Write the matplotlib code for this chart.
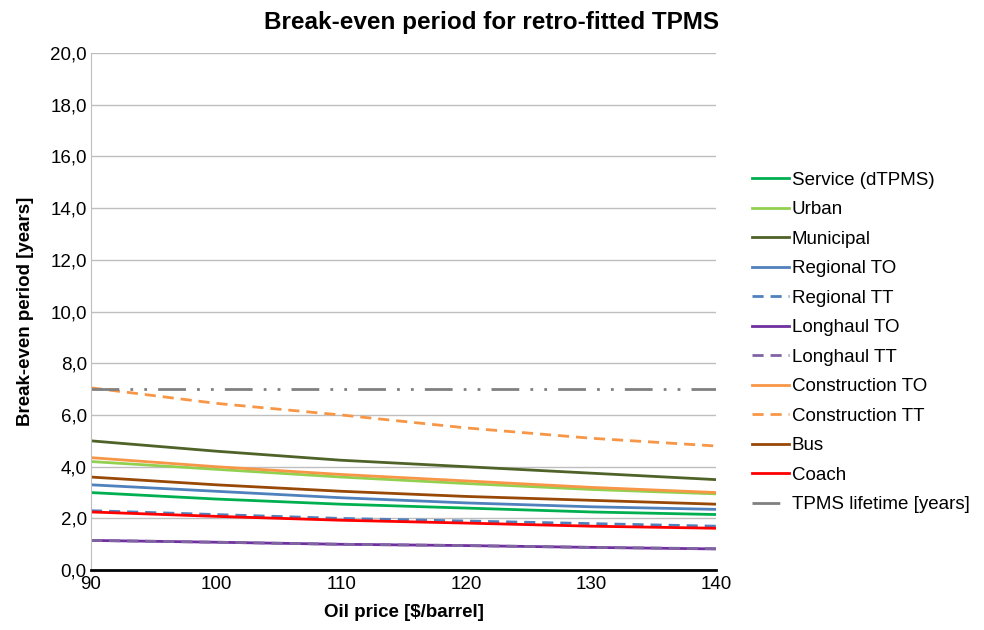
import matplotlib.pyplot as plt
from matplotlib.ticker import FuncFormatter

plt.rcParams['font.family'] = ['Liberation Sans', 'DejaVu Sans']

oil_price = [90, 100, 110, 120, 130, 140]

service = [3.0, 2.75, 2.55, 2.4, 2.25, 2.15]
urban = [4.2, 3.9, 3.6, 3.35, 3.12, 2.95]
municipal = [5.0, 4.6, 4.25, 4.0, 3.75, 3.5]
regional_to = [3.3, 3.05, 2.8, 2.6, 2.45, 2.35]
regional_tt = [2.3, 2.15, 2.0, 1.9, 1.8, 1.7]
longhaul_to = [1.15, 1.08, 1.0, 0.95, 0.88, 0.82]
longhaul_tt = [1.15, 1.08, 1.0, 0.95, 0.88, 0.83]
construction_to = [4.35, 4.0, 3.7, 3.45, 3.2, 3.0]
construction_tt = [7.05, 6.45, 6.0, 5.5, 5.1, 4.8]
bus = [3.6, 3.3, 3.05, 2.85, 2.7, 2.55]
coach = [2.25, 2.08, 1.93, 1.82, 1.7, 1.62]
lifetime = [7.0, 7.0, 7.0, 7.0, 7.0, 7.0]

fig = plt.figure(figsize=(9.84, 6.3), dpi=100)
ax = fig.add_axes([0.0925, 0.095, 0.6355, 0.821])

dash = (0, (4, 2.5))
ax.plot(oil_price, service, color='#00B050', lw=2, label='Service (dTPMS)')
ax.plot(oil_price, urban, color='#92D050', lw=2, label='Urban')
ax.plot(oil_price, municipal, color='#4F6228', lw=2, label='Municipal')
ax.plot(oil_price, regional_to, color='#4F81BD', lw=2, label='Regional TO')
ax.plot(oil_price, regional_tt, color='#4F81BD', lw=2, ls=dash, label='Regional TT')
ax.plot(oil_price, longhaul_to, color='#7030A0', lw=2, label='Longhaul TO')
ax.plot(oil_price, longhaul_tt, color='#8064A2', lw=2, ls=dash, label='Longhaul TT')
ax.plot(oil_price, construction_to, color='#F79646', lw=2, label='Construction TO')
ax.plot(oil_price, construction_tt, color='#F79646', lw=2, ls=dash, label='Construction TT')
ax.plot(oil_price, bus, color='#984807', lw=2, label='Bus')
ax.plot(oil_price, coach, color='#FF0000', lw=2, label='Coach')
ax.plot(oil_price, lifetime, color='#808080', lw=2, ls=(0, (10, 4, 1, 4, 1, 4)),
        label='TPMS lifetime [years]')

ax.set_xlim(90, 140)
ax.set_ylim(0, 20)
ax.set_xticks(oil_price)
ax.set_yticks(range(0, 21, 2))
ax.yaxis.set_major_formatter(FuncFormatter(lambda v, p: f'{v:.1f}'.replace('.', ',')))
ax.grid(axis='y', color='#BEBEBE', lw=1)
ax.set_axisbelow(True)
for s in ['top', 'right']:
    ax.spines[s].set_visible(False)
ax.spines['left'].set_color('#BEBEBE')
ax.spines['bottom'].set_color('black')
ax.spines['bottom'].set_linewidth(2)
ax.tick_params(axis='both', length=0, labelsize=13.5)
ax.tick_params(axis='y', pad=3)
ax.tick_params(axis='x', pad=4)

fig.suptitle('Break-even period for retro-fitted TPMS', x=0.5, y=0.983,
             fontsize=17.5, fontweight='bold')
ax.set_xlabel('Oil price [$/barrel]', fontsize=13.5, fontweight='bold', labelpad=8)
ax.set_ylabel('Break-even period [years]', fontsize=13.5, fontweight='bold', labelpad=12)

ax.legend(loc='center left', bbox_to_anchor=(1.03, 0.44), frameon=False, fontsize=13.5,
          handlelength=2.0, handletextpad=0.12, labelspacing=0.66)

fig.savefig('out.png', dpi=100)
